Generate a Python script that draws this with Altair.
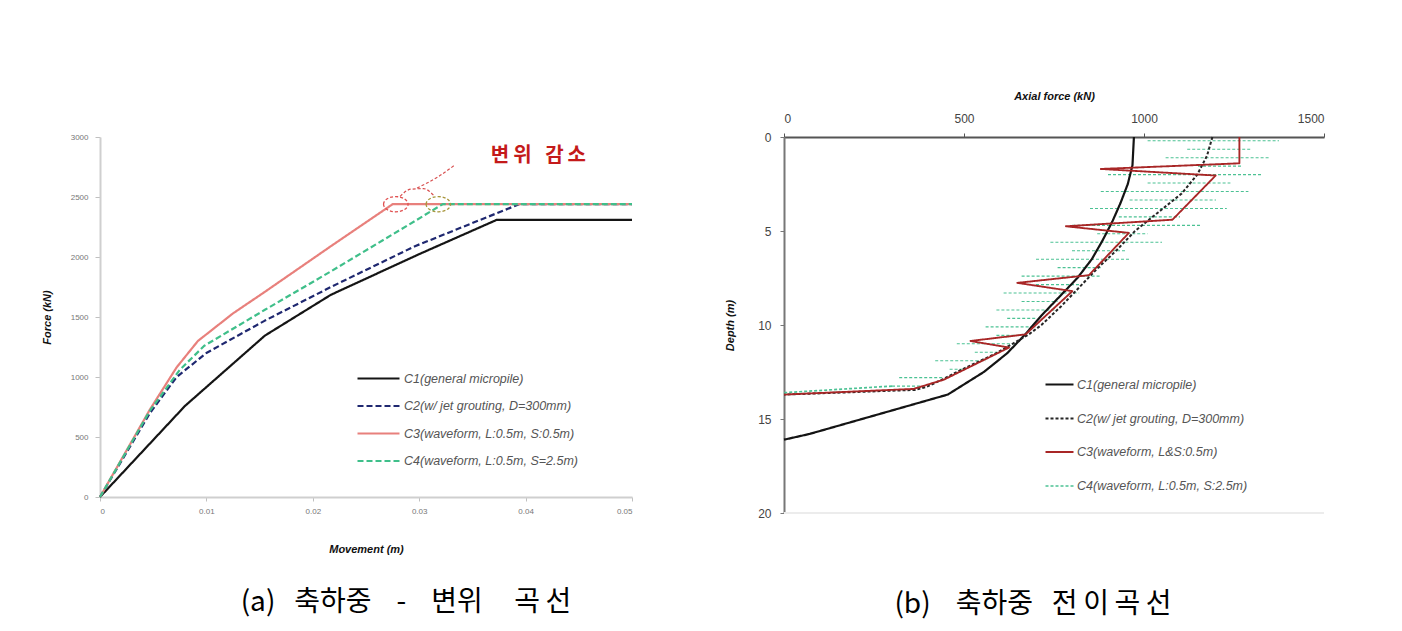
import altair as alt
import pandas as pd

# ---------------- (a) axial load - movement ----------------
a_names = ["C1(general micropile)", "C2(w/ jet grouting, D=300mm)",
           "C3(waveform, L:0.5m, S:0.5m)", "C4(waveform, L:0.5m, S=2.5m)"]
a_c1_mov = [0, 0.0080, 0.0155, 0.0217, 0.0299, 0.0373, 0.0500]
a_c1_force = [0, 760, 1345, 1685, 2020, 2310, 2310]
a_c2_mov = [0, 0.0047, 0.0072, 0.0100, 0.0155, 0.0217, 0.0296, 0.0394, 0.0500]
a_c2_force = [0, 700, 1000, 1200, 1470, 1750, 2090, 2440, 2440]
a_c3_mov = [0, 0.0047, 0.0072, 0.0092, 0.0125, 0.0155, 0.0217, 0.0275, 0.0500]
a_c3_force = [0, 730, 1080, 1300, 1530, 1710, 2090, 2440, 2440]
a_c4_mov = [0, 0.0047, 0.0075, 0.0098, 0.0155, 0.0217, 0.0296, 0.0322, 0.0500]
a_c4_force = [0, 720, 1060, 1260, 1560, 1880, 2300, 2440, 2440]
a_x_ticks = [0, 0.01, 0.02, 0.03, 0.04, 0.05]
a_y_ticks = [0, 500, 1000, 1500, 2000, 2500, 3000]

a_note_label = ["변\u2009위\u00a0\u00a0\u00a0감\u2009소"]
a_note_mov = [0.0412]
a_note_force = [2845]
a_ring_mov = [0.0278, 0.0318]
a_ring_force = [2440, 2440]
a_arch_mov = [0.0282, 0.0292, 0.0304, 0.0314]
a_arch_force = [2505, 2565, 2570, 2510]
a_arrow_mov = [0.0298, 0.0318, 0.0334]
a_arrow_force = [2575, 2670, 2770]

# ---------------- (b) axial load transfer ----------------
b_names = ["C1(general micropile)", "C2(w/ jet grouting, D=300mm)",
           "C3(waveform, L&S:0.5m)", "C4(waveform, L:0.5m, S:2.5m)"]
b_c1_depth = [0, 1.5, 2.5, 3.5, 4.5, 5.5, 6.5, 7.5, 8.5, 9.5, 10.5, 11.5, 12.5, 13.7, 15.8, 16.1]
b_c1_force = [972, 968, 955, 935, 912, 885, 855, 815, 765, 715, 670, 620, 555, 455, 70, 0]
b_c2_depth = [0, 1.0, 2.0, 3.0, 4.0, 5.0, 6.0, 7.0, 8.0, 9.0, 10.0, 10.5, 11.0, 11.5, 12.0, 12.5,
              12.9, 13.3, 13.45, 13.7]
b_c2_force = [1190, 1175, 1148, 1105, 1040, 975, 925, 870, 820, 770, 715, 680, 635, 590, 535, 480,
              440, 395, 365, 0]
b_c3_depth = [0, 1.4, 1.7, 2.05, 4.4, 4.75, 5.1, 7.35, 7.76, 8.2, 10.5, 10.85, 11.2, 12.9, 13.4, 13.7]
b_c3_force = [1265, 1265, 880, 1199, 1079, 783, 958, 847, 648, 801, 671, 518, 625, 445, 360, 0]
# C4: horizontal strokes of the waveform response (depth, left end, right end)
b_c4_rung_depth = [0.2, 0.65, 1.1, 1.55, 2.0, 2.45, 2.9, 3.35, 3.8, 4.25, 4.7, 5.15, 5.6, 6.05, 6.5,
                   6.95, 7.4, 7.85, 8.3, 8.75, 9.2, 9.65, 10.1, 10.55, 11.0, 11.45, 11.9, 12.35,
                   12.8, 13.25]
b_c4_rung_left = [1010, 1120, 1060, 1150, 900, 1010, 880, 960, 850, 930, 800, 870, 740, 800, 700,
                  760, 660, 700, 610, 660, 590, 620, 560, 590, 480, 530, 420, 460, 320, 300]
b_c4_rung_right = [1375, 1300, 1350, 1270, 1330, 1240, 1290, 1200, 1230, 1100, 1160, 1010, 1050, 950,
                   960, 880, 880, 820, 820, 760, 760, 700, 700, 660, 640, 600, 560, 500, 440, 380]
b_c4_tail_force = [300, 0]
b_c4_tail_depth = [13.25, 13.6]
b_x_ticks = [0, 500, 1000, 1500]
b_y_ticks = [0, 5, 10, 15, 20]
b_bottom = [20]

cap_a = "(a)\u00a0\u00a0\u00a0축하중\u00a0\u00a0\u00a0\u00a0-\u00a0\u00a0\u00a0\u00a0변위\u00a0\u00a0\u00a0\u00a0\u00a0곡\u2009선"
cap_b = "(b)\u00a0\u00a0\u00a0\u00a0축하중\u00a0\u00a0\u00a0전\u2009이\u2009곡\u2009선"

# ---------------- styles ----------------
a_colors = ["#151515", "#1f2870", "#e8807c", "#3fbf8a"]
a_dashes = [[1, 0], [6, 3], [1, 0], [6, 3]]
a_widths = [2.2, 2.2, 1.6, 2.2]
b_colors = ["#141414", "#262626", "#a82626", "#4cc294"]
b_dashes = [[1, 0], [3, 2], [1, 0], [3, 2]]
b_widths = [2.2, 1.7, 2.8, 1.0]
FONT = "Liberation Sans"


def to_long(names, xs_list, ys_list, key, xname, yname):
    rows = []
    for n, xs, ys in zip(names, xs_list, ys_list):
        for i, (xv, yv) in enumerate(zip(xs, ys)):
            rows.append({key: n, xname: xv, yname: yv, "idx": i})
    return pd.DataFrame(rows)


A = to_long(a_names, [a_c1_mov, a_c2_mov, a_c3_mov, a_c4_mov],
            [a_c1_force, a_c2_force, a_c3_force, a_c4_force], "series", "mov", "force")
B = to_long(b_names, [b_c1_force, b_c2_force, b_c3_force, b_c4_tail_force],
            [b_c1_depth, b_c2_depth, b_c3_depth, b_c4_tail_depth], "case", "axial", "depth")
R = pd.DataFrame({"depth": b_c4_rung_depth, "axial": b_c4_rung_left, "axial_hi": b_c4_rung_right})

# ---------------- panel (a) ----------------
ax_a_x = alt.Axis(values=a_x_ticks, labelExpr="datum.value == 0 ? '0' : format(datum.value, '.2f')",
                  title="Movement (m)", grid=False, domainColor="#cfcfcf", domainWidth=2,
                  tickColor="#c0c0c0", tickSize=4, labelFontSize=8, labelColor="#777777",
                  labelPadding=6, titlePadding=28, titleFontSize=11, titleFontWeight="bold",
                  titleFontStyle="italic", titleColor="#111111", labelFont=FONT, titleFont=FONT)
ax_a_y = alt.Axis(values=a_y_ticks, format="d", title="Force (kN)", grid=False,
                  domainColor="#cfcfcf", domainWidth=2, tickColor="#c0c0c0", tickSize=5,
                  labelFontSize=8, labelColor="#777777", labelPadding=7, titlePadding=18,
                  titleFontSize=11, titleFontWeight="bold", titleFontStyle="italic",
                  titleColor="#111111", labelFont=FONT, titleFont=FONT)
xa = alt.X("mov:Q", scale=alt.Scale(domain=[0, 0.05], nice=False, zero=False), axis=ax_a_x)
ya = alt.Y("force:Q", scale=alt.Scale(domain=[0, 3000], nice=False), axis=ax_a_y)

leg_a = alt.Legend(title=None, orient="none", legendX=270, legendY=233, symbolType="M-3,0L3,0",
                   symbolSize=196, labelOffset=17, rowPadding=12.5, padding=0, labelFont=FONT,
                   labelFontStyle="italic", labelFontSize=12.5, labelColor="#555555", labelLimit=400)

lines_a = alt.Chart(A).mark_line(strokeJoin="round").encode(
    x=xa, y=ya,
    color=alt.Color("series:N", scale=alt.Scale(domain=a_names, range=a_colors), legend=leg_a),
    strokeDash=alt.StrokeDash("series:N", scale=alt.Scale(domain=a_names, range=a_dashes), legend=leg_a),
    strokeWidth=alt.StrokeWidth("series:N", scale=alt.Scale(domain=a_names, range=a_widths), legend=leg_a),
    order=alt.Order("idx:Q"),
)

ELLIPSE = "M-1,0A1,0.62,0,1,1,1,0A1,0.62,0,1,1,-1,0Z"
ring1 = alt.Chart(pd.DataFrame({"mov": a_ring_mov[:1], "force": a_ring_force[:1]})).mark_point(
    shape=ELLIPSE, size=600, filled=False, color="#e05050", strokeWidth=1.3, strokeDash=[3, 2],
    opacity=1).encode(x=xa, y=ya)
ring2 = alt.Chart(pd.DataFrame({"mov": a_ring_mov[1:], "force": a_ring_force[1:]})).mark_point(
    shape=ELLIPSE, size=600, filled=False, color="#a8963c", strokeWidth=1.3, strokeDash=[3, 2],
    opacity=1).encode(x=xa, y=ya)
arch = alt.Chart(pd.DataFrame({"mov": a_arch_mov, "force": a_arch_force,
                               "idx": list(range(len(a_arch_mov)))})).mark_line(
    color="#d85050", strokeWidth=1.2, strokeDash=[3, 2], interpolate="monotone").encode(
    x=xa, y=ya, order="idx:Q")
arrow = alt.Chart(pd.DataFrame({"mov": a_arrow_mov, "force": a_arrow_force,
                                "idx": list(range(len(a_arrow_mov)))})).mark_line(
    color="#d85050", strokeWidth=1.2, strokeDash=[3, 2], interpolate="monotone").encode(
    x=xa, y=ya, order="idx:Q")
note = alt.Chart(pd.DataFrame({"mov": a_note_mov, "force": a_note_force, "label": a_note_label})).mark_text(
    font="Noto Sans CJK KR", fontSize=20, fontWeight="bold", color="#c41a1a").encode(
    x=xa, y=ya, text="label:N")

chart_a = alt.layer(lines_a, ring1, ring2, arch, arrow, note).properties(
    width=532, height=360,
    title=alt.TitleParams(cap_a, orient="bottom", anchor="middle", frame="group", dx=40, offset=35,
                          font="Noto Sans CJK KR", fontSize=28, fontWeight="normal", color="#000000"))

# ---------------- panel (b) ----------------
ax_b_x = alt.Axis(orient="top", values=b_x_ticks, format="d", title="Axial force (kN)", grid=False,
                  domainColor="#555555", domainWidth=2, tickColor="#555555", tickSize=4,
                  labelFontSize=12, labelColor="#444444", labelPadding=8, titlePadding=11,
                  titleFontSize=11, titleFontWeight="bold", titleFontStyle="italic",
                  titleColor="#111111", labelFont=FONT, titleFont=FONT)
ax_b_y = alt.Axis(values=b_y_ticks, format="d", title="Depth (m)", grid=False,
                  domainColor="#777777", domainWidth=2, tickColor="#777777", tickSize=4,
                  labelFontSize=12, labelColor="#444444", labelPadding=9, titlePadding=22,
                  titleFontSize=11, titleFontWeight="bold", titleFontStyle="italic",
                  titleColor="#111111", labelFont=FONT, titleFont=FONT)
xb = alt.X("axial:Q", scale=alt.Scale(domain=[0, 1500], nice=False), axis=ax_b_x)
yb = alt.Y("depth:Q", scale=alt.Scale(domain=[0, 20], reverse=True, nice=False), axis=ax_b_y)

leg_b = alt.Legend(title=None, orient="none", legendX=267, legendY=239, symbolType="M-2,0L2,0",
                   symbolSize=196, labelOffset=9, rowPadding=19, padding=0, labelFont=FONT,
                   labelFontStyle="italic", labelFontSize=12.5, labelColor="#555555", labelLimit=400)
enc_b = dict(
    x=xb, y=yb,
    color=alt.Color("case:N", scale=alt.Scale(domain=b_names, range=b_colors), legend=leg_b),
    strokeDash=alt.StrokeDash("case:N", scale=alt.Scale(domain=b_names, range=b_dashes), legend=leg_b),
    strokeWidth=alt.StrokeWidth("case:N", scale=alt.Scale(domain=b_names, range=b_widths), legend=leg_b),
    order=alt.Order("idx:Q"),
)
bottom_b = alt.Chart(pd.DataFrame({"depth": b_bottom})).mark_rule(color="#ececec", strokeWidth=2).encode(y=yb)
rungs_b = alt.Chart(R).mark_rule(color=b_colors[3], strokeDash=[3, 2], strokeWidth=1.1).encode(
    x=xb, x2="axial_hi:Q", y=yb)
main_b = alt.Chart(B).mark_line(strokeJoin="round").encode(**enc_b)

chart_b = alt.layer(bottom_b, rungs_b, main_b).properties(
    width=540, height=376,
    title=alt.TitleParams(cap_b, orient="bottom", anchor="middle", frame="group", dx=-21, offset=72,
                          font="Noto Sans CJK KR", fontSize=28, fontWeight="normal", color="#000000"))

chart = alt.hconcat(chart_a, chart_b, spacing=90).resolve_scale(
    color="independent", strokeDash="independent", strokeWidth="independent"
).resolve_legend(
    color="independent", strokeDash="independent", strokeWidth="independent"
).properties(
    padding={"left": 33, "top": 82, "right": 5, "bottom": 5}
).configure_view(stroke=None)

chart.save("out.html", embed_options={"renderer": "svg", "actions": False})
